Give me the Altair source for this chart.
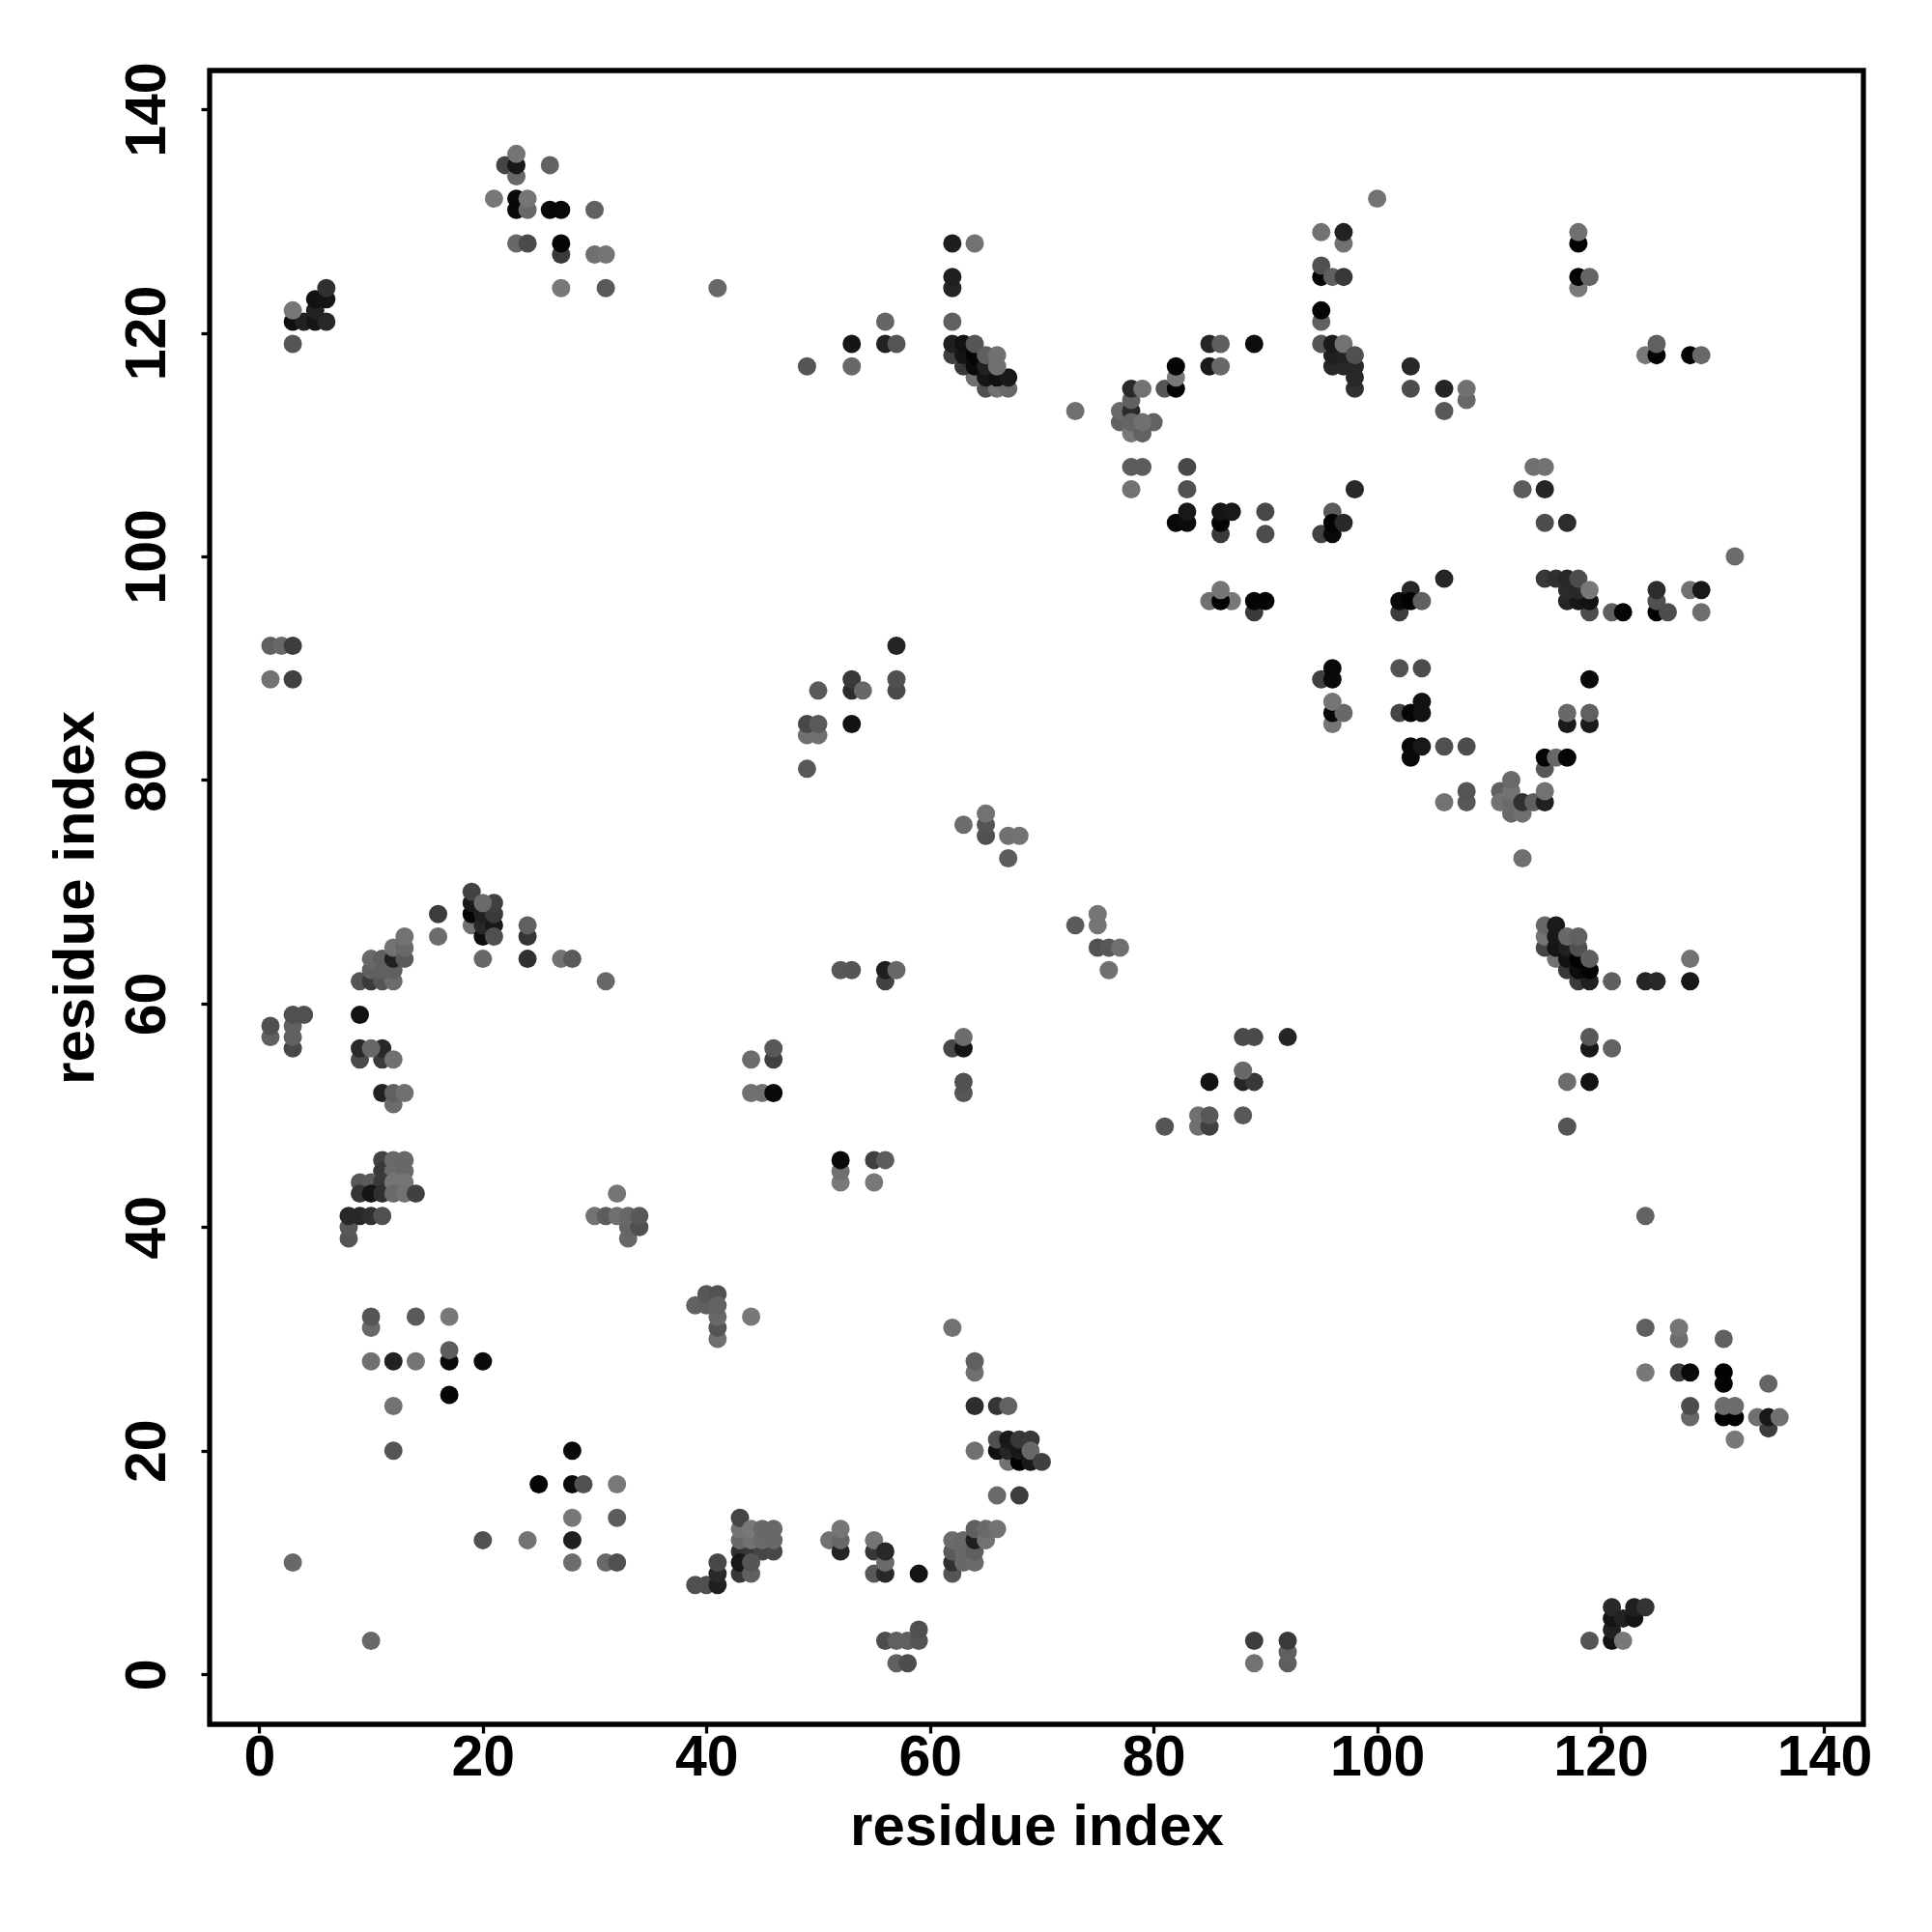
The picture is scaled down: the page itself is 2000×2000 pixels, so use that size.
import altair as alt
import pandas as pd

# (x, y, gray level) in drawing order
points = [
(3,119,0x55),(3,121,0x10),(4,121,0x22),(5,121,0x15),(6,121,0x28),(5,122,0x22),(3,122,0x77),(5,123,0x12),(6,123,0x15),(6,124,0x30),
(22,135,0x45),(23,134,0x68),(23,135,0x18),(23,136,0x75),(26,135,0x62),(21,132,0x78),(23,131,0x08),(23,132,0x08),(24,131,0x68),(24,132,0x75),
(26,131,0x08),(27,131,0x08),(30,131,0x62),(23,128,0x68),(24,128,0x4a),(27,127,0x3a),(27,128,0x05),(30,127,0x70),(31,127,0x75),(27,124,0x78),(31,124,0x5a),(41,124,0x68),
(62,128,0x1e),(64,128,0x72),(62,124,0x25),(62,125,0x20),(56,121,0x65),(62,121,0x60),(53,119,0x15),(56,119,0x22),(57,119,0x55),(49,117,0x55),(53,117,0x68),
(65,115,0x50),(66,115,0x72),(67,115,0x68),(64,116,0x70),(63,117,0x38),(62,118,0x40),(62,119,0x20),(63,118,0x15),(63,119,0x12),(64,117,0x0a),(64,118,0x05),(65,116,0x15),(65,117,0x20),(66,116,0x10),(67,116,0x18),(64,119,0x55),(65,118,0x60),(66,117,0x70),(66,118,0x70),
(73,113,0x70),(77,112,0x62),(77,113,0x6a),(78,111,0x78),(79,111,0x62),(78,113,0x2a),(78,114,0x60),(78,115,0x2a),(79,115,0x72),(78,112,0x65),(80,112,0x62),(79,112,0x70),
(81,115,0x55),(82,115,0x05),(82,116,0x78),(82,117,0x05),(85,119,0x25),(86,119,0x5f),(89,119,0x0d),(85,117,0x1a),(86,117,0x68),
(78,108,0x5c),(79,108,0x5c),(83,108,0x48),(78,106,0x72),(83,106,0x50),(82,103,0x08),(83,103,0x0c),(83,104,0x18),(86,102,0x3a),(86,103,0x05),(86,104,0x15),(87,104,0x18),(90,104,0x48),(90,102,0x4d),
(85,96,0x70),(87,96,0x78),(86,96,0x03),(86,97,0x75),(89,95,0x3a),(89,96,0x05),(90,96,0x05),
(100,132,0x72),(95,129,0x72),(97,128,0x72),(97,129,0x22),(95,125,0x05),(95,126,0x50),(96,125,0x60),(97,125,0x38),(95,121,0x62),(95,122,0x05),
(98,115,0x30),(98,116,0x28),(96,117,0x28),(97,117,0x28),(98,117,0x28),(96,118,0x1f),(97,118,0x22),(95,119,0x55),(96,119,0x1a),(97,119,0x72),(98,118,0x50),
(103,117,0x28),(103,115,0x4d),(106,115,0x25),(108,114,0x68),(108,115,0x70),(106,113,0x58),(118,128,0x02),(118,129,0x70),(118,124,0x7a),(118,125,0x02),(119,125,0x65),
(124,118,0x78),(125,118,0x03),(125,119,0x60),(128,118,0x03),(129,118,0x68),(114,108,0x70),(115,108,0x72),(113,106,0x5c),(115,106,0x26),(115,103,0x4d),(117,103,0x2c),(132,100,0x6c),(98,106,0x28),
(95,102,0x42),(96,102,0x0a),(96,104,0x5a),(96,103,0x03),(97,103,0x28),(106,98,0x26),
(119,95,0x4d),(117,96,0x25),(118,96,0x18),(119,96,0x12),(117,97,0x2b),(118,97,0x28),(115,98,0x38),(116,98,0x30),(117,98,0x28),(118,98,0x4d),(119,97,0x78),
(121,95,0x5f),(122,95,0x05),(125,95,0x02),(125,96,0x50),(125,97,0x2d),(126,95,0x4d),(128,97,0x70),(129,97,0x18),(129,95,0x6e),
(102,95,0x3c),(103,97,0x28),(102,96,0x0a),(103,96,0x02),(104,96,0x60),
(1,92,0x60),(2,92,0x68),(3,92,0x3d),(1,89,0x72),(3,89,0x40),(16,68,0x3c),(16,66,0x6c),
(19,67,0x70),(19,68,0x05),(19,69,0x1a),(19,70,0x42),(20,66,0x0d),(20,67,0x28),(20,68,0x20),(21,67,0x18),(21,68,0x3a),(21,69,0x40),(20,69,0x6a),(21,66,0x50),(20,64,0x68),
(24,66,0x35),(24,67,0x60),(24,64,0x30),(27,64,0x72),(28,64,0x5a),(31,62,0x68),
(9,62,0x55),(10,62,0x3a),(11,62,0x55),(12,62,0x6c),(10,63,0x60),(11,63,0x60),(12,63,0x60),(10,64,0x68),(11,64,0x5f),(12,64,0x20),(12,65,0x72),(13,64,0x5a),(13,65,0x68),(13,66,0x72),
(3,56,0x48),(3,57,0x60),(3,58,0x60),(3,59,0x50),(4,59,0x50),(1,57,0x60),(1,58,0x50),
(9,59,0x12),(9,55,0x4a),(9,56,0x2a),(11,55,0x3a),(11,56,0x28),(10,56,0x68),(12,55,0x70),(11,52,0x22),(12,51,0x6c),(12,52,0x60),(13,52,0x70),
(44,55,0x6c),(46,55,0x40),(46,56,0x58),(44,52,0x70),(45,52,0x70),(46,52,0x08),
(57,92,0x25),(53,88,0x2c),(53,89,0x38),(57,88,0x4a),(57,89,0x50),(50,88,0x5a),(54,88,0x68),(49,84,0x70),(50,84,0x70),(49,85,0x48),(50,85,0x5a),(53,85,0x12),(49,81,0x58),
(65,75,0x50),(65,76,0x55),(65,77,0x72),(63,76,0x6c),(67,75,0x70),(68,75,0x72),(67,73,0x5c),(73,67,0x5a),(75,67,0x75),(75,68,0x75),(75,65,0x52),(76,65,0x58),(77,65,0x70),(76,63,0x70),
(52,63,0x58),(53,63,0x55),(56,62,0x42),(56,63,0x1f),(57,63,0x68),(62,56,0x48),(63,56,0x15),(63,57,0x6c),(63,52,0x55),(63,53,0x50),
(88,57,0x4a),(89,57,0x4a),(92,57,0x25),(85,53,0x12),(88,53,0x25),(89,53,0x38),(88,54,0x68),(88,50,0x58),(81,49,0x55),(84,49,0x70),(84,50,0x70),(85,49,0x40),(85,50,0x58),
(52,44,0x78),(52,45,0x70),(52,46,0x0a),(55,46,0x40),(56,46,0x5c),(55,44,0x78),
(96,85,0x75),(96,86,0x08),(97,86,0x68),(96,87,0x75),(95,89,0x40),(96,89,0x0a),(96,90,0x08),(102,90,0x52),(104,90,0x4d),(119,89,0x0a),
(102,86,0x45),(103,86,0x05),(104,86,0x12),(104,87,0x12),(117,85,0x1a),(119,85,0x1a),(117,86,0x68),(119,86,0x60),
(103,82,0x08),(103,83,0x08),(104,83,0x18),(106,83,0x50),(108,83,0x4d),(115,81,0x58),(115,82,0x05),(116,82,0x68),(117,82,0x05),
(108,78,0x58),(108,79,0x55),(106,78,0x72),(111,79,0x60),(111,78,0x72),(112,78,0x6a),(112,79,0x72),(112,80,0x6a),(112,77,0x6a),(113,77,0x70),(113,78,0x30),(114,78,0x5f),(115,78,0x20),(115,79,0x72),(113,73,0x70),
(116,64,0x72),(115,65,0x45),(115,66,0x75),(115,67,0x68),(117,63,0x38),(118,62,0x3a),(119,62,0x20),(116,65,0x15),(116,66,0x18),(116,67,0x1a),(117,64,0x12),(117,65,0x20),(118,63,0x0d),(119,63,0x05),(118,64,0x02),(118,65,0x50),(117,66,0x68),(118,66,0x60),(119,64,0x5f),
(121,62,0x5f),(124,62,0x25),(125,62,0x28),(128,62,0x18),(128,64,0x72),(119,56,0x18),(119,57,0x58),(121,56,0x62),(117,53,0x6c),(119,53,0x12),(117,49,0x55),
(11,46,0x42),(11,45,0x38),(12,46,0x68),(13,46,0x68),(12,45,0x6a),(13,45,0x68),(9,44,0x58),(10,44,0x5a),(11,44,0x38),(9,43,0x35),(10,43,0x15),(11,43,0x30),(12,44,0x75),(13,44,0x75),(12,43,0x6a),(13,43,0x72),(14,43,0x40),
(8,39,0x55),(8,40,0x58),(8,41,0x28),(9,41,0x28),(10,41,0x30),(11,41,0x50),
(32,43,0x75),(30,41,0x72),(31,41,0x5c),(32,41,0x70),(33,39,0x68),(33,40,0x65),(33,41,0x68),(34,40,0x50),(34,41,0x58),
(10,31,0x68),(10,32,0x55),(14,32,0x5a),(17,32,0x78),(17,28,0x0a),(17,29,0x5c),(10,28,0x70),(12,28,0x22),(14,28,0x75),(20,28,0x0a),(17,25,0x05),(12,24,0x72),(12,20,0x55),
(28,20,0x0a),(25,17,0x05),(28,17,0x0a),(29,17,0x50),(32,17,0x78),(28,14,0x78),(32,14,0x5c),(20,12,0x50),(24,12,0x72),(28,12,0x20),(3,10,0x68),(28,10,0x6c),(31,10,0x68),(32,10,0x50),(10,3,0x68),
(39,33,0x62),(40,33,0x60),(40,34,0x58),(41,34,0x52),(41,30,0x70),(41,31,0x55),(41,32,0x68),(41,33,0x62),(44,32,0x78),
(43,11,0x30),(44,11,0x38),(45,11,0x45),(46,11,0x48),(43,12,0x68),(43,13,0x72),(43,14,0x45),(44,12,0x72),(44,13,0x78),(45,12,0x6a),(45,13,0x68),(46,12,0x68),(46,13,0x68),
(39,8,0x50),(40,8,0x50),(41,8,0x20),(41,9,0x28),(41,10,0x48),(43,9,0x38),(43,10,0x18),(44,9,0x60),(44,10,0x55),
(62,31,0x72),(64,27,0x70),(64,28,0x60),(64,24,0x2e),(66,24,0x35),(67,24,0x62),(64,20,0x70),
(67,19,0x72),(66,20,0x10),(66,21,0x50),(67,20,0x25),(67,21,0x18),(68,19,0x02),(69,19,0x18),(68,20,0x18),(68,21,0x38),(69,21,0x38),(69,20,0x68),(70,19,0x40),(66,16,0x6a),(68,16,0x3d),
(51,12,0x72),(52,11,0x25),(52,12,0x68),(52,13,0x75),(55,11,0x38),(55,12,0x75),(55,9,0x58),(56,9,0x28),(56,10,0x6a),(56,11,0x28),(59,9,0x14),
(62,9,0x55),(62,10,0x30),(62,11,0x5a),(62,12,0x6c),(63,10,0x68),(63,11,0x68),(63,12,0x68),(64,10,0x6a),(64,11,0x5f),(64,12,0x1f),(64,13,0x60),(65,12,0x72),(65,13,0x6a),(66,13,0x72),
(56,3,0x4d),(57,3,0x60),(58,3,0x60),(59,3,0x55),(59,4,0x50),(57,1,0x60),(58,1,0x4d),(89,3,0x3d),(89,1,0x72),(92,1,0x5f),(92,2,0x60),(92,3,0x3a),
(124,41,0x62),(124,31,0x60),(127,30,0x6c),(127,31,0x75),(131,30,0x60),(124,27,0x78),(127,27,0x40),(128,27,0x08),(131,26,0x05),(131,27,0x02),(135,26,0x65),
(128,23,0x68),(128,24,0x4d),(131,23,0x02),(132,23,0x02),(131,24,0x6c),(132,24,0x6c),(135,22,0x3d),(134,23,0x70),(135,23,0x18),(136,23,0x70),(132,21,0x78),
(119,3,0x55),(121,3,0x12),(121,4,0x20),(121,5,0x15),(121,6,0x28),(122,5,0x22),(122,3,0x78),(123,5,0x15),(123,6,0x20),(124,6,0x33),
]

xs = [p[0] for p in points]
ys = [p[1] for p in points]
grays = ["#%02x%02x%02x" % (p[2], p[2], p[2]) for p in points]
tick_values = [0, 20, 40, 60, 80, 100, 120, 140]
font = "Liberation Sans"

df = pd.DataFrame({"x": xs, "y": ys, "g": grays})

chart = (
    alt.Chart(df)
    .mark_circle(size=360, opacity=1)
    .encode(
        x=alt.X("x:Q", scale=alt.Scale(domain=[-4.44, 143.5], nice=False, zero=False),
                axis=alt.Axis(values=tick_values, title="residue index", grid=False, domain=False,
                              tickColor="black", tickWidth=3.3, tickSize=9, labelFontSize=59, labelFont=font,
                              labelFontWeight="bold", labelColor="black", labelPadding=-4, titleFont=font,
                              titleFontSize=60, titleFontWeight="bold", titleColor="black", titlePadding=13,
                              labelOverlap=False, labelFlush=False)),
        y=alt.Y("y:Q", scale=alt.Scale(domain=[-4.47, 143.46], nice=False, zero=False),
                axis=alt.Axis(values=tick_values, title="residue index", grid=False, domain=False,
                              tickColor="black", tickWidth=3.3, tickSize=9, labelFontSize=59, labelFont=font,
                              labelFontWeight="bold", labelColor="black", labelPadding=26, labelAngle=270,
                              labelBaseline="bottom", labelAlign="center", titleFont=font,
                              titleFontSize=60, titleFontWeight="bold", titleColor="black", titlePadding=14,
                              labelOverlap=False)),
        color=alt.Color("g:N", scale=None),
    )
    .properties(width=1712, height=1712, background="white",
                padding={"left": 40, "top": 55, "right": 5, "bottom": 5})
    .configure_view(stroke="black", strokeWidth=5.3)
)

chart.save("out.html", embed_options={"renderer": "svg", "actions": False})
